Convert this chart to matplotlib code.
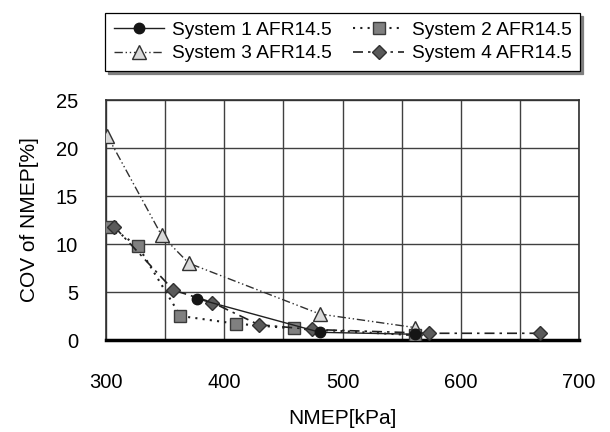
import matplotlib
matplotlib.use("Agg")
import matplotlib.pyplot as plt
from matplotlib.ticker import MultipleLocator

plt.rcParams['font.family'] = ['Liberation Sans', 'DejaVu Sans']

s1_x = [377, 481, 561]
s1_y = [4.3, 0.8, 0.6]
s2_x = [303, 327, 363, 410, 459, 561]
s2_y = [11.8, 9.8, 2.5, 1.7, 1.2, 0.5]
s3_x = [301, 347, 370, 481, 561]
s3_y = [21.3, 10.9, 8.0, 2.7, 1.3]
s4_x = [307, 357, 390, 429, 474, 573, 667]
s4_y = [11.8, 5.2, 3.9, 1.6, 1.1, 0.7, 0.7]
labels = ["System 1 AFR14.5", "System 2 AFR14.5", "System 3 AFR14.5", "System 4 AFR14.5"]

W, H = 610, 432
fig = plt.figure(figsize=(W / 100, H / 100), dpi=100)
ax = fig.add_axes([106 / W, 1 - 340 / H, (579 - 106) / W, 240 / H])

h1, = ax.plot(s1_x, s1_y, '-', color='#202020', lw=1.0, marker='o', ms=7.5,
              mfc='#151515', mec='#151515', label=labels[0], zorder=5)
h2, = ax.plot(s2_x, s2_y, linestyle=(0, (1, 2.5)), color='#202020', lw=1.5, marker='s', ms=8.5,
              mfc='#808080', mec='#3a3a3a', label=labels[1], zorder=4)
h3, = ax.plot(s3_x, s3_y, linestyle=(0, (6, 2, 1, 2, 1, 2)), color='#303030', lw=1.0, marker='^', ms=9.5,
              mfc='#d9d9d9', mec='#303030', label=labels[2], zorder=3)
h4, = ax.plot(s4_x, s4_y, linestyle=(0, (6, 3, 1.5, 3)), color='#202020', lw=1.2, marker='D', ms=7.5,
              mfc='#5a5a5a', mec='#303030', label=labels[3], zorder=4)

ax.set_xlim(300, 700)
ax.set_ylim(0, 25)
ax.xaxis.set_major_locator(MultipleLocator(100))
ax.xaxis.set_minor_locator(MultipleLocator(50))
ax.yaxis.set_major_locator(MultipleLocator(5))
ax.grid(True, which='both', color='#404040', lw=1.0)
ax.set_axisbelow(True)
ax.tick_params(length=0, labelsize=14.5, which='both')
ax.tick_params(axis='y', pad=20)
ax.tick_params(axis='x', pad=24)
for side in ['top', 'right', 'left']:
    ax.spines[side].set_color('#303030')
    ax.spines[side].set_linewidth(1.2)
ax.spines['bottom'].set_linewidth(2.5)
ax.spines['bottom'].set_color('black')

ax.set_xlabel("NMEP[kPa]", fontsize=15)
ax.xaxis.set_label_coords(0.5, -(409 - 340) / 240)
ax.set_ylabel("COV of NMEP[%]", fontsize=15)
ax.yaxis.set_label_coords(-(106 - 39) / 473, 0.5)

lx0, lx1, ly0, ly1 = 105, 580, 13, 71
leg = fig.legend(handles=[h1, h3, h2, h4], ncol=2, loc='center',
                 bbox_to_anchor=(lx0 / W, 1 - ly1 / H, (lx1 - lx0) / W, (ly1 - ly0) / H),
                 mode='expand', borderaxespad=0.0,
                 fontsize=13.8, frameon=True, fancybox=False,
                 shadow={'color': '#808080', 'alpha': 1.0}, edgecolor='black',
                 handlelength=2.65, columnspacing=0.6, handletextpad=0.4,
                 borderpad=0.45, labelspacing=0.3)
leg.get_frame().set_linewidth(0.9)

fig.savefig("out.png", dpi=100)
